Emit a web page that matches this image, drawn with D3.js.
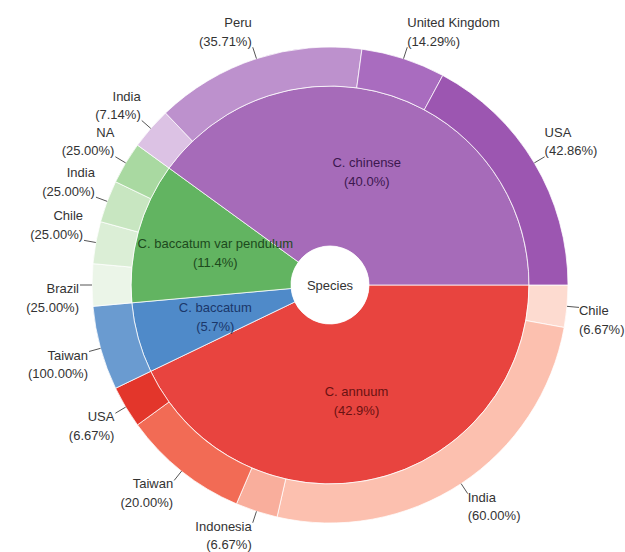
<!DOCTYPE html>
<html>
<head>
<meta charset="utf-8">
<script src="https://cdn.jsdelivr.net/npm/d3@7"></script>
<style>
  html, body { margin: 0; padding: 0; background: #ffffff; }
  svg { display: block; }
  text { font-family: "Liberation Sans", Arial, Helvetica, sans-serif; font-size: 13px; }
</style>
</head>
<body>
<svg id="chart" width="625" height="552"></svg>
<script>
// ---------------- data ----------------
const rootLabel = "Species";
const species = ["C. annuum", "C. baccatum", "C. baccatum var pendulum", "C. chinense"];
const speciesCounts = [15, 2, 4, 14];

const annuumCountries = ["Chile", "India", "Indonesia", "Taiwan", "USA"];
const annuumCounts = [1, 9, 1, 3, 1];
const baccatumCountries = ["Taiwan"];
const baccatumCounts = [2];
const pendulumCountries = ["Brazil", "Chile", "India", "NA"];
const pendulumCounts = [1, 1, 1, 1];
const chinenseCountries = ["India", "Peru", "United Kingdom", "USA"];
const chinenseCounts = [1, 5, 2, 6];

const countriesBySpecies = [annuumCountries, baccatumCountries, pendulumCountries, chinenseCountries];
const countsBySpecies = [annuumCounts, baccatumCounts, pendulumCounts, chinenseCounts];

// ---------------- styles ----------------
const speciesColors = ["#e8443f", "#4f8ac9", "#62b461", "#a66bb9"];
const speciesTextColors = ["#6a1212", "#1b3769", "#1d4a1d", "#3c184f"];
const countryColors = [
  ["#fddbd0", "#fcc0af", "#f9ae9c", "#f26b55", "#e3362b"],
  ["#6a9bd0"],
  ["#ebf5e8", "#dbeed6", "#c8e6c1", "#a9d9a1"],
  ["#dcc2e4", "#bd91cd", "#a96cbf", "#9c56b1"]
];

// ---------------- layout ----------------
const W = 625, H = 552;
const cx = 330, cy = 285;
const radii = [0, 39, 199, 238];   // hole | species ring | country ring
const leader = 12;
const lineGap = 18.5;

const treeData = {
  name: rootLabel,
  children: species.map((s, i) => ({
    name: s, si: i,
    children: countriesBySpecies[i].map((c, j) => ({ name: c, si: i, ci: j, value: countsBySpecies[i][j] }))
  }))
};

const root = d3.hierarchy(treeData).sum(d => d.value || 0);
d3.partition().size([2 * Math.PI, 1])(root);

const offset = Math.PI / 2; // start at 3 o'clock, clockwise
const ang0 = d => d.x0 + offset;
const ang1 = d => d.x1 + offset;

const arc = d3.arc()
  .startAngle(ang0)
  .endAngle(ang1)
  .innerRadius(d => radii[d.depth])
  .outerRadius(d => radii[d.depth + 1]);

const svg = d3.select("#chart");
const g = svg.append("g").attr("transform", `translate(${cx},${cy})`);

const nodes = root.descendants().filter(d => d.depth > 0);

g.selectAll("path.seg")
  .data(nodes)
  .join("path")
  .attr("class", "seg")
  .attr("d", arc)
  .attr("fill", d => d.depth === 1 ? speciesColors[d.data.si] : countryColors[d.data.si][d.data.ci])
  .attr("stroke", "#ffffff")
  .attr("stroke-opacity", 0.75)
  .attr("stroke-width", 1);

// center hole
g.append("circle").attr("r", radii[1]).attr("fill", "#ffffff");
g.append("text")
  .attr("text-anchor", "middle")
  .attr("y", 4.5)
  .attr("fill", "#333333")
  .text(root.data.name);

// species labels
const total = root.value;
const inner = g.selectAll("g.inner")
  .data(root.children)
  .join("g")
  .attr("class", "inner")
  .attr("transform", d => {
    const c = arc.centroid(d);
    return `translate(${c[0]},${c[1]})`;
  });
inner.append("text")
  .attr("text-anchor", "middle")
  .attr("y", -19 / 2 + 4.5)
  .attr("fill", d => speciesTextColors[d.data.si])
  .text(d => d.data.name);
inner.append("text")
  .attr("text-anchor", "middle")
  .attr("y", 19 / 2 + 4.5)
  .attr("fill", d => speciesTextColors[d.data.si])
  .text(d => "(" + (d.value / total * 100).toFixed(1) + "%)");

// country labels with leader lines
const leaves = root.leaves();
const polar = (a, r) => [Math.sin(a) * r, -Math.cos(a) * r];

const outer = g.selectAll("g.outer")
  .data(leaves)
  .join("g")
  .attr("class", "outer");

outer.each(function(d) {
  const a = (ang0(d) + ang1(d)) / 2;
  const p0 = polar(a, radii[3]);
  const p1 = polar(a, radii[3] + leader);
  const left = p1[0] < 0;
  const upper = p1[1] < 0;
  const sel = d3.select(this);
  sel.append("line")
    .attr("x1", p0[0]).attr("y1", p0[1])
    .attr("x2", p1[0]).attr("y2", p1[1])
    .attr("stroke", "#555555")
    .attr("stroke-width", 1);
  const tx = p1[0] + (left ? -1 : 0);
  const nameY = upper ? p1[1] - 1.5 - lineGap : p1[1] + 8;
  const anchor = left ? "end" : "start";
  sel.append("text")
    .attr("x", tx).attr("y", nameY)
    .attr("text-anchor", anchor)
    .attr("fill", "#333333")
    .text(d.data.name);
  sel.append("text")
    .attr("x", tx).attr("y", nameY + lineGap)
    .attr("text-anchor", anchor)
    .attr("fill", "#333333")
    .text("(" + (d.value / d.parent.value * 100).toFixed(2) + "%)");
});
</script>
</body>
</html>
